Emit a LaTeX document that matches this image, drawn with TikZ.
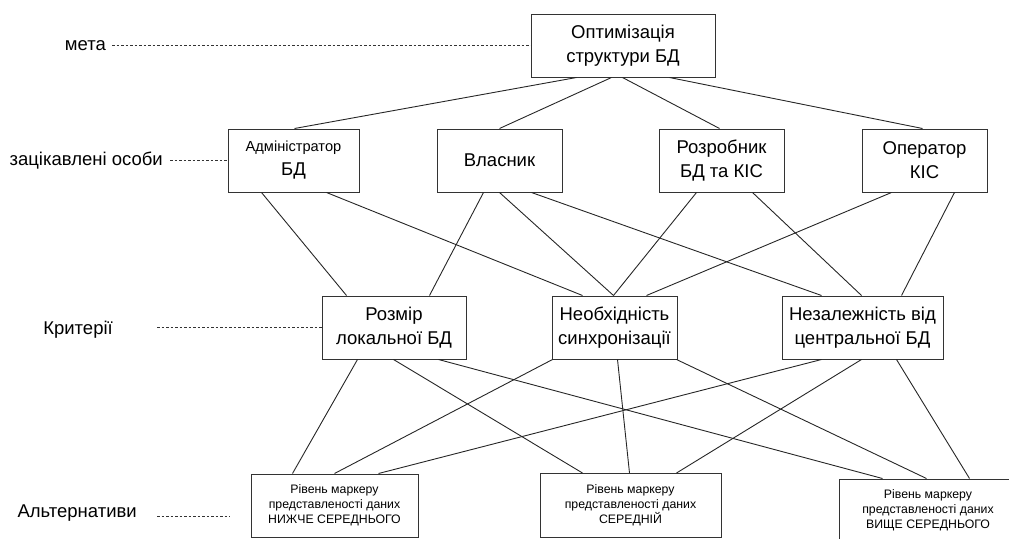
\documentclass[tikz,border=0pt]{standalone}
\usepackage{fontspec}
\setmainfont{Liberation Sans}
\begin{document}
\begin{tikzpicture}[x=1pt,y=-1pt,
  box/.style={draw=black!80,line width=1pt,inner sep=0pt,align=center,minimum height=63pt,
    font=\fontsize{18.5}{24}\selectfont},
  altbox/.style={box,font=\fontsize{12.3}{15}\selectfont},
  lbl/.style={inner sep=0pt,anchor=east,font=\fontsize{18.5}{20}\selectfont},
  link/.style={draw=black!85,line width=0.9pt},
  dot/.style={draw=black!80,line width=0.9pt,dash pattern=on 2.5pt off 2pt}]
\useasboundingbox (0,0) rectangle (1009,538);
\clip (0,0) rectangle (1009,538);

% goal
\node[box,minimum width=184pt] (top) at (623,45.5) {Оптимізація\\структури БД};
% stakeholders
\node[box,minimum width=131pt] (admin) at (293.5,160.5) {{\fontsize{14.6}{23}\selectfont Адміністратор}\\БД};
\node[box,minimum width=125pt] (vlas) at (499.5,160.5) {Власник};
\node[box,minimum width=125pt] (rozr) at (721.5,160.5) {Розробник\\БД та КІС};
\node[box,minimum width=125pt] (oper) at (924.5,160.5) {Оператор\\КІС};
% criteria
\node[box,minimum width=144pt] (rozm) at (394,327.5) {Розмір\\локальної БД};
\node[box,minimum width=125pt] (neob) at (614.5,327.5) {Необхідність\\синхронізації};
\node[box,minimum width=161pt] (nez) at (862.5,327.5) {Незалежність від\\центральної БД};
% alternatives
\node[altbox,minimum width=167pt] (alt1) at (334.5,505.5) {Рівень маркеру\\представленості даних\\НИЖЧЕ СЕРЕДНЬОГО};
\node[altbox,minimum width=181pt,minimum height=64pt] (alt2) at (630.5,505.5) {Рівень маркеру\\представленості даних\\СЕРЕДНІЙ};
\node[altbox,minimum width=178pt] (alt3) at (928,510.5) {Рівень маркеру\\представленості даних\\ВИЩЕ СЕРЕДНЬОГО};

% level labels
\node[lbl] (lmeta) at (106,45.5) {мета};
\node[lbl] (losob) at (163,160.5) {зацікавлені особи};
\node[lbl] (lkrit) at (113,330) {Критерії};
\node[lbl] (lalt) at (137,513) {Альтернативи};

\draw[dot] ([xshift=6pt]lmeta.east) -- (top.west);
\draw[dot] ([xshift=7pt]losob.east) -- (admin.west);
\draw[dot] ([xshift=44pt]lkrit.east |- rozm.west) -- (rozm.west);
\draw[dot] ([xshift=20pt,yshift=-3pt]lalt.east) -- ++(73,0);

% goal -> stakeholders
\draw[link] ([xshift=46pt]top.south west) -- ([xshift=67pt]admin.north west);
\draw[link] ([xshift=81pt]top.south west) -- ([xshift=63pt]vlas.north west);
\draw[link] ([xshift=92pt]top.south west) -- ([xshift=61pt]rozr.north west);
\draw[link] ([xshift=139pt]top.south west) -- ([xshift=61pt]oper.north west);

% stakeholders -> criteria
\draw[link] ([xshift=34pt]admin.south west) -- ([xshift=25pt]rozm.north west);
\draw[link] ([xshift=99pt]admin.south west) -- ([xshift=31pt]neob.north west);
\draw[link] ([xshift=47pt]vlas.south west) -- ([xshift=108pt]rozm.north west);
\draw[link] ([xshift=63pt]vlas.south west) -- ([xshift=62pt]neob.north west);
\draw[link] ([xshift=95pt]vlas.south west) -- ([xshift=40pt]nez.north west);
\draw[link] ([xshift=38pt]rozr.south west) -- ([xshift=62pt]neob.north west);
\draw[link] ([xshift=94pt]rozr.south west) -- ([xshift=80pt]nez.north west);
\draw[link] ([xshift=30pt]oper.south west) -- ([xshift=95pt]neob.north west);
\draw[link] ([xshift=93pt]oper.south west) -- ([xshift=120pt]nez.north west);

% criteria -> alternatives
\draw[link] ([xshift=36pt]rozm.south west) -- ([xshift=42pt]alt1.north west);
\draw[link] ([xshift=72pt]rozm.south west) -- ([xshift=43pt]alt2.north west);
\draw[link] ([xshift=117pt]rozm.south west) -- ([xshift=44pt]alt3.north west);
\draw[link] ([xshift=1pt]neob.south west) -- ([xshift=84pt]alt1.north west);
\draw[link] ([xshift=66pt]neob.south west) -- ([xshift=90pt]alt2.north west);
\draw[link] ([xshift=125pt]neob.south west) -- ([xshift=88pt]alt3.north west);
\draw[link] ([xshift=40pt]nez.south west) -- ([xshift=128pt]alt1.north west);
\draw[link] ([xshift=80pt]nez.south west) -- ([xshift=137pt]alt2.north west);
\draw[link] ([xshift=115pt]nez.south west) -- ([xshift=131pt]alt3.north west);
\end{tikzpicture}
\end{document}
